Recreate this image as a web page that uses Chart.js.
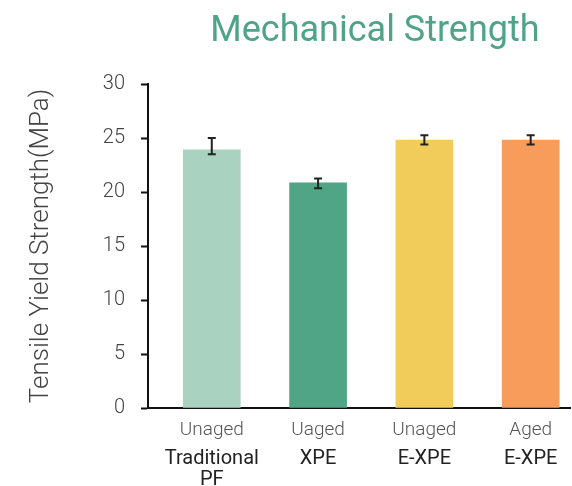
<!DOCTYPE html>
<html>
<head>
<meta charset="utf-8">
<script src="https://cdn.jsdelivr.net/npm/chart.js@4"></script>
<style>
  html, body { margin: 0; padding: 0; background: #fff; }
  #wrap { position: relative; width: 572px; height: 486px; }
  #titulo {
    position: absolute; left: 0; top: 8px; width: 750px;
    text-align: center; font-family: Roboto, sans-serif; font-weight: 400;
    font-size: 36px; color: #4fa386; white-space: nowrap;
  }
  canvas { position: absolute; left: 0; top: 0; }
</style>
</head>
<body>
<div id="wrap">
  <canvas id="grafico" width="572" height="486"></canvas>
  <div id="titulo">Mechanical Strength</div>
</div>
<script>
const estados = ["Unaged", "Uaged", "Unaged", "Aged"];
const materiales = [["Traditional", "PF"], "XPE", "E-XPE", "E-XPE"];
const resistencia = [23.9, 20.85, 24.8, 24.8];
const errorAlto = [25.0, 21.25, 25.25, 25.25];
const errorBajo = [23.5, 20.35, 24.4, 24.4];
const colores = ["#aad2c0", "#50a586", "#f2cc5a", "#f79c5a"];
const ticksY = [0, 5, 10, 15, 20, 25, 30];

const posiciones = estados.map((_, i) => i);

const barrasError = {
    id: "barrasError",
    afterDatasetsDraw(chart) {
        const ctx = chart.ctx;
        const xs = chart.scales.x;
        const ys = chart.scales.y;
        ctx.save();
        ctx.strokeStyle = "#222";
        ctx.lineWidth = 2;
        posiciones.forEach(i => {
            const x = xs.getPixelForValue(i);
            const y1 = ys.getPixelForValue(errorAlto[i]);
            const y2 = ys.getPixelForValue(errorBajo[i]);
            ctx.beginPath();
            ctx.moveTo(x, y1); ctx.lineTo(x, y2);
            ctx.moveTo(x - 4, y1); ctx.lineTo(x + 4, y1);
            ctx.moveTo(x - 4, y2); ctx.lineTo(x + 4, y2);
            ctx.stroke();
        });
        ctx.restore();
    }
};

function fijarTicks(scale) {
    scale.ticks = posiciones.map(v => ({ value: v }));
}

new Chart(document.getElementById("grafico"), {
    type: "bar",
    data: {
        datasets: [{
            data: posiciones.map(i => ({ x: i, y: resistencia[i] })),
            backgroundColor: colores,
            barThickness: 57
        }]
    },
    options: {
        responsive: false,
        animation: false,
        layout: { padding: { top: 84, right: 2, left: 0, bottom: 0 } },
        plugins: { legend: { display: false }, tooltip: { enabled: false } },
        scales: {
            x: {
                type: "linear",
                offset: false,
                min: -0.6,
                max: 3.37,
                afterBuildTicks: fijarTicks,
                afterFit(scale) { scale.height = 36; },
                grid: { display: false, drawTicks: false, offset: false },
                border: { display: true, color: "#111", width: 2 },
                ticks: {
                    callback: v => estados[v],
                    color: "#555",
                    padding: 11,
                    maxRotation: 0,
                    autoSkip: false,
                    font: { family: "Roboto", size: 19, weight: 300 }
                }
            },
            x2: {
                type: "linear",
                position: "bottom",
                offset: false,
                min: -0.6,
                max: 3.37,
                afterBuildTicks: fijarTicks,
                afterFit(scale) { scale.height = 42; },
                grid: { display: false, drawTicks: false, offset: false },
                border: { display: false },
                ticks: {
                    callback: v => materiales[v],
                    color: "#222",
                    padding: 4,
                    maxRotation: 0,
                    autoSkip: false,
                    font: { family: "Roboto", size: 20, weight: 400, lineHeight: 1.05 }
                }
            },
            y: {
                min: 0,
                max: 30,
                afterBuildTicks(scale) { scale.ticks = ticksY.map(v => ({ value: v })); },
                afterFit(scale) { scale.width = 148; },
                grid: { drawOnChartArea: false, drawTicks: true, tickLength: 7, tickColor: "#111", tickWidth: 2 },
                border: { display: true, color: "#111", width: 2 },
                ticks: {
                    color: "#444",
                    padding: 16,
                    font: { family: "Roboto", size: 20, weight: 300 }
                },
                title: {
                    display: true,
                    text: "Tensile Yield Strength(MPa)",
                    color: "#444",
                    padding: { top: 26 },
                    font: { family: "Roboto", size: 26, weight: 300 }
                }
            }
        }
    },
    plugins: [barrasError]
});
</script>
</body>
</html>
